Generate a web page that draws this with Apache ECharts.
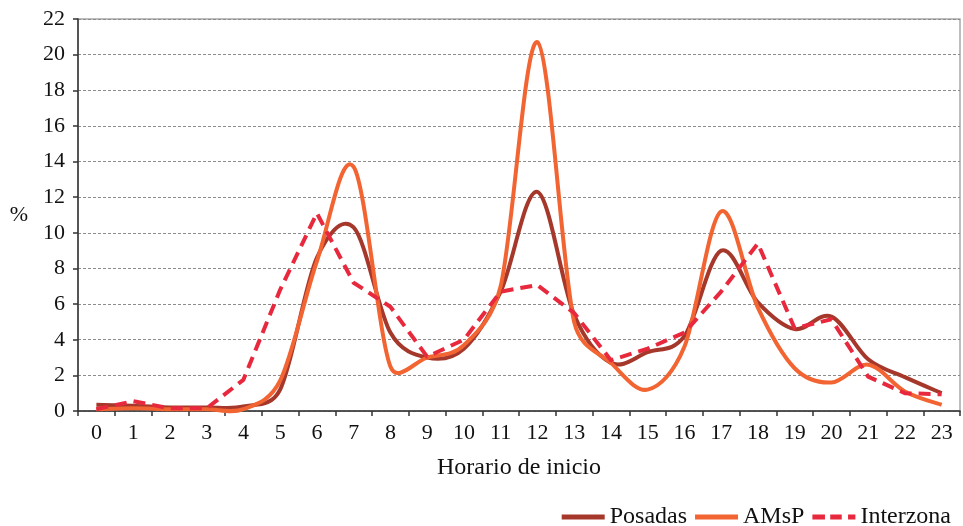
<!DOCTYPE html>
<html>
<head>
<meta charset="utf-8">
<script src="https://cdn.jsdelivr.net/npm/echarts@6/dist/echarts.min.js"></script>
<style>
  html, body { margin: 0; padding: 0; background: #fff; }
  #chart { width: 963px; height: 526px; }
</style>
</head>
<body>
<div id="chart"></div>
<script>
// Hour of day (start time)
const hours = ['0','1','2','3','4','5','6','7','8','9','10','11','12','13','14','15','16','17','18','19','20','21','22','23'];

// Share of trips (%) by start hour
const posadas   = [0.35, 0.3, 0.2, 0.2, 0.25, 1.2, 8.6, 10.3, 4.4, 3.0, 3.5, 6.7, 12.3, 5.4, 2.7, 3.3, 4.2, 9.0, 6.1, 4.6, 5.3, 2.9, 1.9, 1.0];
const amsp      = [0.1, 0.15, 0.1, 0.1, 0.1, 1.7, 8.4, 13.7, 2.5, 3.0, 3.7, 7.0, 20.7, 5.0, 2.7, 1.2, 3.6, 11.2, 5.8, 2.4, 1.6, 2.6, 1.1, 0.35];
const interzona = [0.1, 0.55, 0.15, 0.15, 1.75, 6.8, 11.1, 7.2, 5.85, 3.05, 4.0, 6.7, 7.07, 5.5, 2.85, 3.5, 4.4, 6.7, 9.4, 4.64, 5.15, 1.93, 1.0, 0.94];

const yTicks = { min: 0, max: 22, interval: 2 };

const FONT = '"Liberation Serif", "DejaVu Serif", serif';
const COLORS = { posadas: '#a5382b', amsp: '#f26431', interzona: '#e8293d' };
const LINE_W = 4;

// Cubic Bezier spline through every point (tangent = (next - prev) / 6,
// with each control arm capped at half of its own segment length).
function splinePath(pts) {
  const n = pts.length;
  const arm = (a, b, seg) => {
    let vx = (b[0] - a[0]) / 6, vy = (b[1] - a[1]) / 6;
    const len = Math.hypot(vx, vy), cap = seg / 2;
    if (len > cap && len > 0) { vx *= cap / len; vy *= cap / len; }
    return [vx, vy];
  };
  let d = 'M' + pts[0][0].toFixed(2) + ',' + pts[0][1].toFixed(2);
  for (let k = 0; k < n - 1; k++) {
    const p0 = pts[Math.max(k - 1, 0)], p1 = pts[k], p2 = pts[k + 1], p3 = pts[Math.min(k + 2, n - 1)];
    const seg = Math.hypot(p2[0] - p1[0], p2[1] - p1[1]);
    const a1 = arm(p0, p2, seg), a2 = arm(p1, p3, seg);
    const c1 = [p1[0] + a1[0], p1[1] + a1[1]];
    const c2 = [p2[0] - a2[0], p2[1] - a2[1]];
    d += 'C' + c1[0].toFixed(2) + ',' + c1[1].toFixed(2) + ' ' +
               c2[0].toFixed(2) + ',' + c2[1].toFixed(2) + ' ' +
               p2[0].toFixed(2) + ',' + p2[1].toFixed(2);
  }
  return d;
}

// Smoothed line drawn as a custom series: points come from the axes via api.coord
function smoothLine(name, values, color, z) {
  return {
    name: name,
    type: 'custom',
    coordinateSystem: 'cartesian2d',
    data: values.map((v, i) => [i, v]),
    encode: { x: 0, y: 1 },
    itemStyle: { color: color },
    z: z,
    renderItem: function (params, api) {
      if (params.dataIndexInside !== 0) return null;
      const pts = [];
      for (let k = 0; k < params.dataInsideLength; k++) {
        pts.push(api.coord([api.value(0, k), api.value(1, k)]));
      }
      return {
        type: 'path',
        shape: { pathData: splinePath(pts) },
        style: { fill: null, stroke: color, lineWidth: LINE_W, lineJoin: 'round', lineCap: 'butt' },
        silent: true
      };
    }
  };
}

const chart = echarts.init(document.getElementById('chart'), null, { renderer: 'canvas' });

chart.setOption({
  animation: false,
  backgroundColor: '#ffffff',
  textStyle: { fontFamily: FONT, color: '#111' },
  grid: {
    left: 78, right: 3, top: 19, bottom: 115,
    show: true, borderColor: '#a8a8a8', borderWidth: 1.5
  },
  legend: {
    right: 7, top: 500,
    itemWidth: 43, itemHeight: 5, itemGap: 8,
    symbolKeepAspect: false,
    itemStyle: { borderWidth: 0 },
    textStyle: { fontFamily: FONT, fontSize: 24, color: '#111' },
    data: [
      { name: 'Posadas', icon: 'path://M0,0H43V5H0Z' },
      { name: 'AMsP', icon: 'path://M0,0H43V5H0Z' },
      { name: 'Interzona', icon: 'path://M0,0H12V5H0Z M17,0H28V5H17Z M34,0H41V5H34Z' }
    ]
  },
  xAxis: {
    type: 'category',
    data: hours,
    boundaryGap: true,
    name: 'Horario de inicio',
    nameLocation: 'middle',
    nameGap: 45,
    nameTextStyle: { fontFamily: FONT, fontSize: 24, color: '#111' },
    axisLine: { lineStyle: { color: '#333', width: 1.5 } },
    axisTick: { show: true, length: 5, lineStyle: { color: '#333', width: 1.5 } },
    axisLabel: { fontFamily: FONT, fontSize: 22, color: '#111', margin: 11, interval: 0 },
    splitLine: { show: false }
  },
  yAxis: {
    type: 'value',
    min: yTicks.min, max: yTicks.max, interval: yTicks.interval,
    name: '%',
    nameLocation: 'middle',
    nameRotate: 0,
    nameGap: 50,
    nameTextStyle: { fontFamily: FONT, fontSize: 22, color: '#111' },
    axisLine: { show: true, lineStyle: { color: '#333', width: 1.5 } },
    axisTick: { show: true, length: 5, lineStyle: { color: '#333', width: 1.5 } },
    axisLabel: { fontFamily: FONT, fontSize: 22, color: '#111', margin: 13 },
    splitLine: { show: true, lineStyle: { color: '#8c8c8c', type: [3, 2], width: 1 } }
  },
  series: [
    smoothLine('Posadas', posadas, COLORS.posadas, 3),
    smoothLine('AMsP', amsp, COLORS.amsp, 4),
    {
      name: 'Interzona', type: 'line', data: interzona,
      smooth: false, symbol: 'none',
      lineStyle: { color: COLORS.interzona, width: LINE_W, type: [12, 7], join: 'round' },
      itemStyle: { color: COLORS.interzona }, z: 5
    }
  ]
});
</script>
</body>
</html>
